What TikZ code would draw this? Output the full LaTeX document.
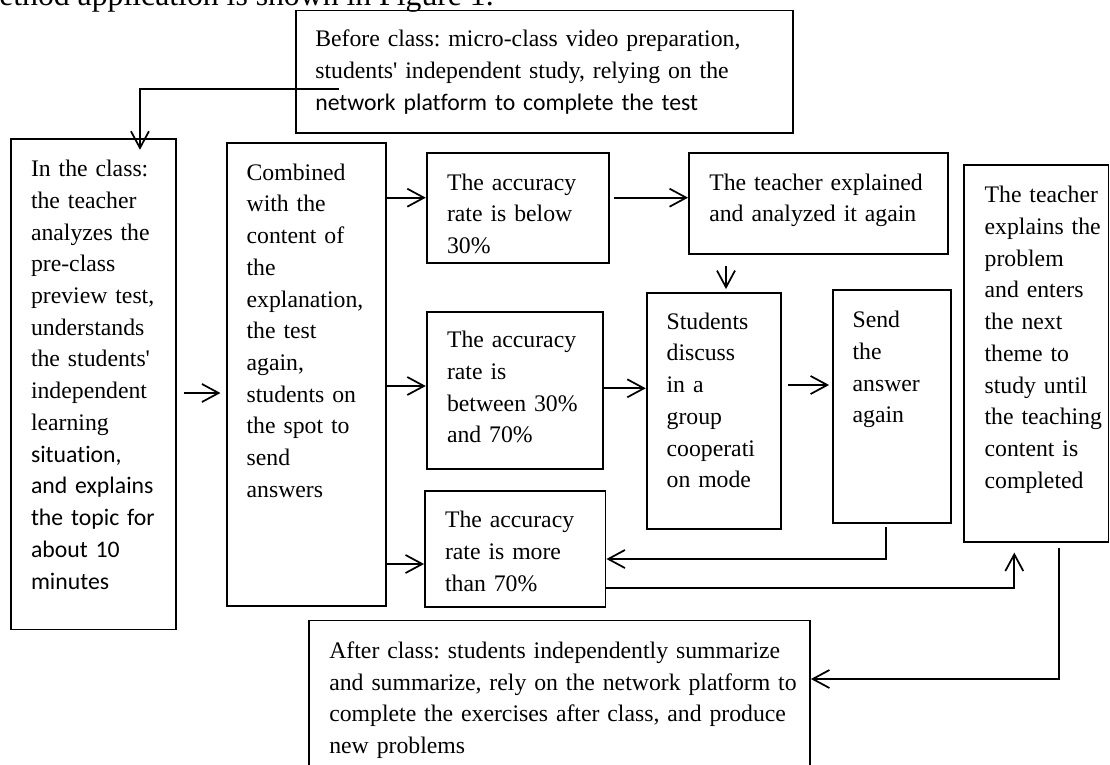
\documentclass[tikz,border=0pt]{standalone}
\usepackage{fontspec}
\newfontfamily\timesfont{Liberation Serif}
\newfontfamily\calibri{Carlito}[Ligatures=NoCommon]
\usetikzlibrary{arrows.meta,calc,fit}

\tikzset{
  box/.style={draw, line width=1.4pt, inner sep=0pt},
  boxtext/.style={anchor=base west, inner sep=0pt, align=left, text width=380pt,
    font=\timesfont\fontsize{17.8}{23.8}\selectfont\frenchspacing},
  arr/.style={line width=1.3pt, -{Straight Barb[length=12.5pt,width=13.5pt]}}
}

\begin{document}
\begin{tikzpicture}[x=0.75pt,y=0.75pt,yscale=-1,xscale=1]
\useasboundingbox (0,0) rectangle (1110,764);
\clip (0,0) rectangle (1110,764);

% Text Node
\node[anchor=base east, inner sep=0pt, font=\timesfont\fontsize{23.8}{28}\selectfont] (caption) at (494,5) {method application is shown in Figure 1.};

%Shape: Rectangle
\node[box, fit={(296,10.5) (792.7,132.7)}] (before) {};
\node[box, fit={(10.7,139) (176,629.5)}] (incls) {};
\node[box, fit={(226.7,143.3) (385.9,606)}] (comb) {};
\node[box, fit={(426.7,152.7) (609.3,262.7)}] (low) {};
\node[box, fit={(426.7,311.7) (602.7,469.3)}] (mid) {};
\node[box, fit={(425,491) (605.5,607.3)}] (high) {};
\node[box, fit={(689,152.7) (948.3,254.3)}] (reexp) {};
\node[box, fit={(646.7,292.7) (780.7,528.7)}] (disc) {};
\node[box, fit={(832.7,290.3) (951,522.7)}] (send) {};
\node[box, fit={(964.3,165) (1108.5,542.3)}] (next) {};
\node[box, fit={(309,620.5) (810,800)}] (after) {};

% Text Node
\node[boxtext] (beforetxt) at ($(before.north west)+(20,37)$) {Before class: micro-class video preparation,\\ students' independent study, relying on the\\ {\calibri network platform to complete the test}};
% Text Node
\node[boxtext] (inclstxt) at ($(incls.north west)+(21,38.5)$) {In the class:\\ the teacher\\ analyzes the\\ pre-class\\ preview test,\\ understands\\ the students'\\ independent\\ learning\\ {\calibri situation,}\\ {\calibri and explains}\\ {\calibri the topic for}\\ {\calibri about 10}\\ {\calibri minutes}};
% Text Node
\node[boxtext] (combtxt) at ($(comb.north west)+(20.6,37.7)$) {Combined\\ with the\\ content of\\ the\\ explanation,\\ the test\\ again,\\ students on\\ the spot to\\ send\\ answers};
% Text Node
\node[boxtext] (lowtxt) at ($(low.north west)+(21,38.3)$) {The accuracy\\ rate is below\\ 30\%};
% Text Node
\node[boxtext] (midtxt) at ($(mid.north west)+(21,37)$) {The accuracy\\ rate is\\ between 30\%\\ and 70\%};
% Text Node
\node[boxtext] (hightxt) at ($(high.north west)+(20.7,37.6)$) {The accuracy\\ rate is more\\ than 70\%};
% Text Node
\node[boxtext] (reexptxt) at ($(reexp.north west)+(21,38.3)$) {The teacher explained\\ and analyzed it again};
% Text Node
\node[boxtext] (disctxt) at ($(disc.north west)+(20.6,37.3)$) {Students\\ discuss\\ in a\\ group\\ cooperati\\ on mode};
% Text Node
\node[boxtext] (sendtxt) at ($(send.north west)+(20.6,38.3)$) {Send\\ the\\ answer\\ again};
% Text Node
\node[boxtext] (nexttxt) at ($(next.north west)+(21,38.6)$) {The teacher\\ explains the\\ problem\\ and enters\\ the next\\ theme to\\ study until\\ the teaching\\ content is\\ completed};
% Text Node
\node[boxtext] (aftertxt) at ($(after.north west)+(21,38.8)$) {After class: students independently summarize\\ and summarize, rely on the network platform to\\ complete the exercises after class, and produce\\ new problems};

%Straight Lines
\coordinate (bstart) at (338.7,89);
\draw[arr] (bstart) -| ($(incls.north)+(46.6,11.7)$);
\draw[arr, shorten <=5pt, shorten >=4pt] (incls.east |- 0,393) -- (comb.west |- 0,393);
\draw[arr] (comb.east |- 0,197.7) -- (low.west |- 0,197.7);
\draw[arr] (comb.east |- 0,386) -- (mid.west |- 0,386);
\draw[arr] (comb.east |- 0,564) -- (high.west |- 0,564);
\draw[arr, shorten <=3pt] (low.east |- 0,197.7) -- (reexp.west |- 0,197.7);
\draw[arr, shorten <=8pt, shorten >=2pt] (reexp.south -| 726,0) -- (disc.north -| 726,0);
\draw[arr] (mid.east |- 0,388.3) -- (disc.west |- 0,388.3);
\draw[arr, shorten <=4.5pt, shorten >=2pt] (disc.east |- 0,385) -- (send.west |- 0,385);
\draw[arr, shorten <=2.5pt] (send.south -| 885.7,0) |- (high.east |- 0,559);
\draw[arr, shorten >=7pt] (high.east |- 0,588.3) -| (next.south -| 1014.3,0);
\draw[arr, shorten <=3.3pt] (next.south -| 1059.3,0) |- (after.east |- 0,679);

\end{tikzpicture}
\end{document}
